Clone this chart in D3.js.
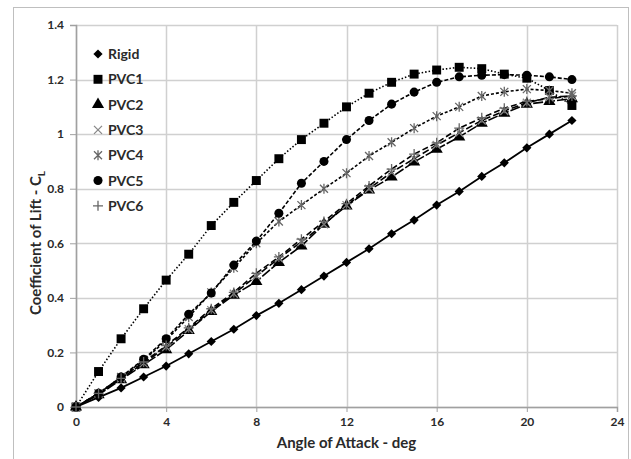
<!DOCTYPE html>
<html>
<head>
<meta charset="utf-8">
<script src="https://cdn.jsdelivr.net/npm/d3@7"></script>
<style>
  body { margin: 0; background: #fff; }
  text { font-family: Lato, "Open Sans", sans-serif; font-weight: bold; fill: #2a2a2a; }
</style>
</head>
<body>
<div id="chart"></div>
<script>
// angle of attack (deg)
const angles = d3.range(0, 23)

const rigid = [0, 0.035, 0.07, 0.11, 0.15, 0.195, 0.24, 0.285, 0.335, 0.38, 0.43, 0.48, 0.53, 0.58, 0.635, 0.685, 0.74, 0.79, 0.845, 0.895, 0.95, 1.0, 1.05]
const pvc1 = [0, 0.13, 0.25, 0.36, 0.465, 0.56, 0.665, 0.75, 0.83, 0.91, 0.98, 1.04, 1.10, 1.15, 1.19, 1.22, 1.235, 1.245, 1.24, 1.22, 1.205, 1.16, 1.105]
const pvc2 = [0, 0.045, 0.10, 0.155, 0.21, 0.28, 0.35, 0.41, 0.46, 0.53, 0.59, 0.67, 0.737, 0.795, 0.843, 0.898, 0.945, 0.99, 1.04, 1.077, 1.11, 1.12, 1.13]
const pvc3 = [0, 0.05, 0.105, 0.16, 0.22, 0.285, 0.355, 0.415, 0.48, 0.545, 0.605, 0.67, 0.74, 0.80, 0.86, 0.91, 0.96, 1.005, 1.05, 1.085, 1.115, 1.135, 1.14]
const pvc4 = [0, 0.05, 0.11, 0.17, 0.245, 0.33, 0.42, 0.51, 0.60, 0.68, 0.74, 0.80, 0.857, 0.92, 0.97, 1.022, 1.066, 1.10, 1.14, 1.155, 1.165, 1.16, 1.15]
const pvc5 = [0, 0.05, 0.11, 0.175, 0.25, 0.34, 0.418, 0.52, 0.608, 0.71, 0.82, 0.90, 0.98, 1.05, 1.11, 1.154, 1.19, 1.21, 1.216, 1.218, 1.216, 1.21, 1.20]
const pvc6 = [0, 0.05, 0.105, 0.165, 0.225, 0.29, 0.36, 0.42, 0.49, 0.55, 0.615, 0.68, 0.745, 0.81, 0.872, 0.927, 0.968, 1.022, 1.06, 1.095, 1.12, 1.13, 1.14]

const xTicks = [0, 4, 8, 12, 16, 20, 24]
const yTicks = [0, 0.2, 0.4, 0.6, 0.8, 1, 1.2, 1.4]

const series = [
  { name: 'Rigid', values: rigid, symbol: 'diamond', dash: null, color: '#000' },
  { name: 'PVC1', values: pvc1, symbol: 'square', dash: '1.5,2', color: '#000' },
  { name: 'PVC2', values: pvc2, symbol: 'triangle', dash: '10,2', color: '#000' },
  { name: 'PVC3', values: pvc3, symbol: 'x', dash: '7,3', color: '#888' },
  { name: 'PVC4', values: pvc4, symbol: 'star', dash: '3,2', color: '#666' },
  { name: 'PVC5', values: pvc5, symbol: 'circle', dash: '4,2', color: '#000' },
  { name: 'PVC6', values: pvc6, symbol: 'plus', dash: '6,3', color: '#666' },
]

const W = 631, H = 459
const margin = { top: 25, right: 14, bottom: 52, left: 76 }
const width = 617 - margin.left
const height = 407 - margin.top

const svg = d3.select('#chart').append('svg')
  .attr('width', W).attr('height', H)

// outer chart border
svg.append('rect')
  .attr('x', 13.5).attr('y', 7.5)
  .attr('width', 615).attr('height', 460)
  .attr('fill', 'none').attr('stroke', '#bfbfbf')

const g = svg.append('g').attr('transform', `translate(${margin.left},${margin.top})`)

const x = d3.scaleLinear().domain([0, 24]).range([0, width])
const y = d3.scaleLinear().domain([0, 1.4]).range([height, 0])

// gridlines
g.append('g').selectAll('line').data(yTicks).enter().append('line')
  .attr('x1', 0).attr('x2', width)
  .attr('y1', (d) => Math.round(y(d)) + 0.5).attr('y2', (d) => Math.round(y(d)) + 0.5)
  .attr('stroke', '#d0d0d0').attr('stroke-width', 1.5)
g.append('g').selectAll('line').data(xTicks).enter().append('line')
  .attr('y1', 0).attr('y2', height)
  .attr('x1', (d) => Math.round(x(d)) + 0.5).attr('x2', (d) => Math.round(x(d)) + 0.5)
  .attr('stroke', '#d0d0d0').attr('stroke-width', 1.5)

// axes
const xAxis = g.append('g')
  .attr('transform', `translate(0,${height})`)
  .call(d3.axisBottom(x).tickValues(xTicks).tickFormat(d3.format('d')).tickSize(5).tickPadding(5))
const yAxis = g.append('g')
  .call(d3.axisLeft(y).tickValues(yTicks).tickFormat((d) => d3.format('')(+d.toFixed(1))).tickSize(6).tickPadding(6))
;[xAxis, yAxis].forEach((a) => {
  a.select('.domain').attr('stroke', '#a0a0a0').attr('stroke-width', 1.5)
  a.selectAll('.tick line').attr('stroke', '#a0a0a0')
  a.selectAll('.tick text').style('font-size', '12px').style('font-family', 'Lato, sans-serif').style('font-weight', 'bold').attr('fill', '#2a2a2a')
})

// series lines
const line = d3.line().x((d, i) => x(angles[i])).y((d) => y(d))
series.forEach((s) => {
  g.append('path')
    .datum(s.values)
    .attr('d', line)
    .attr('fill', 'none')
    .attr('stroke', '#000')
    .attr('stroke-width', s.dash ? 1.6 : 1.8)
    .attr('stroke-dasharray', s.dash)
})

// marker shapes
function marker(sel, s) {
  const c = s.color
  if (s.symbol === 'x') {
    sel.append('path').attr('d', 'M-4,-4L4,4M-4,4L4,-4').attr('stroke', c).attr('stroke-width', 1.3).attr('fill', 'none')
  } else if (s.symbol === 'plus') {
    sel.append('path').attr('d', 'M-5,0L5,0M0,-5L0,5').attr('stroke', c).attr('stroke-width', 1.3).attr('fill', 'none')
  } else if (s.symbol === 'star') {
    sel.append('path').attr('d', 'M-4,-4L4,4M-4,4L4,-4M0,-5L0,5').attr('stroke', c).attr('stroke-width', 1.3).attr('fill', 'none')
  } else if (s.symbol === 'diamond') {
    sel.append('path').attr('d', 'M0,-4.6L4.6,0L0,4.6L-4.6,0Z').attr('fill', c)
  } else {
    const type = { square: d3.symbolSquare, triangle: d3.symbolTriangle, circle: d3.symbolCircle }[s.symbol]
    const size = { square: 80, triangle: 64, circle: 64 }[s.symbol]
    sel.append('path').attr('d', d3.symbol().type(type).size(size)()).attr('fill', c)
  }
}

series.forEach((s) => {
  g.append('g').selectAll('g').data(s.values).enter().append('g')
    .attr('transform', (d, i) => `translate(${x(angles[i])},${y(d)})`)
    .each(function () { marker(d3.select(this), s) })
})

// legend
const legend = g.append('g').attr('transform', 'translate(22,29)')
series.forEach((s, i) => {
  const row = legend.append('g').attr('transform', `translate(0,${i * 25.3})`)
  marker(row, s)
  row.append('text').attr('x', 10).attr('y', 5)
    .style('font-size', '14px').text(s.name)
})

// axis titles
svg.append('text')
  .attr('x', margin.left + width / 2).attr('y', 448)
  .attr('text-anchor', 'middle').style('font-size', '15px')
  .text('Angle of Attack - deg')

const yt = svg.append('text')
  .attr('transform', 'translate(41,243) rotate(-90)')
  .attr('text-anchor', 'middle').style('font-size', '15px')
yt.append('tspan').text('Coefficient of Lift - C')
yt.append('tspan').attr('dy', 4).style('font-size', '10px').text('L')
</script>
</body>
</html>
